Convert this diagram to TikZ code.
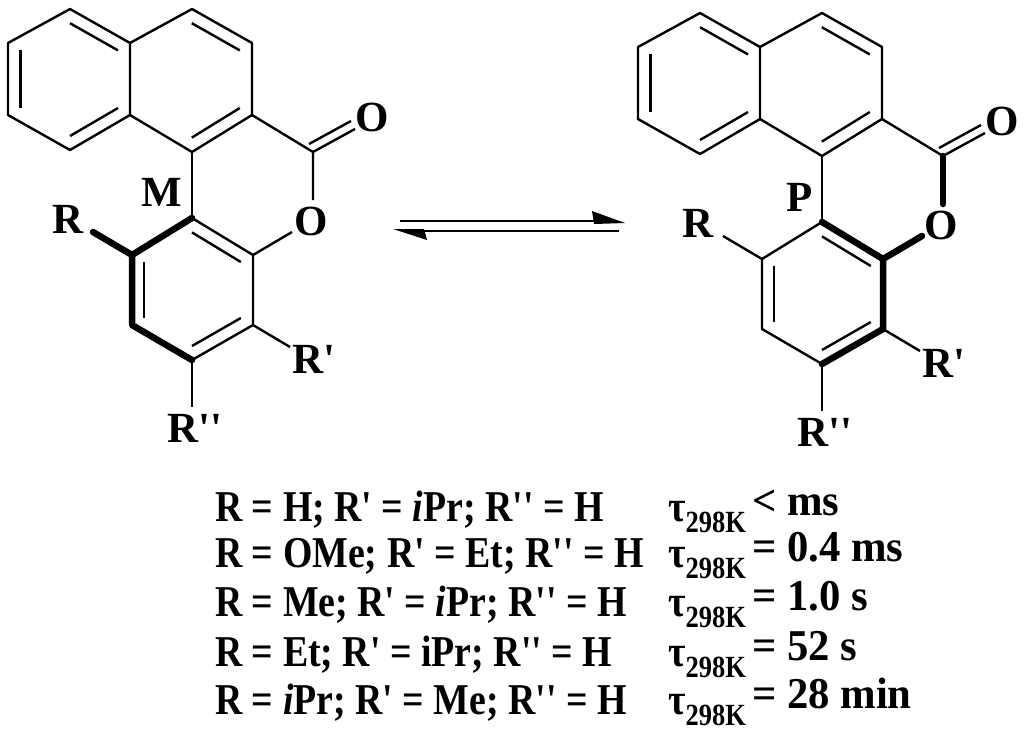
\documentclass[tikz,border=0pt]{standalone}
\usepackage{fontspec}
\setmainfont{Liberation Serif}
\usetikzlibrary{calc}
\newcommand\q{\textquotesingle}
\newcommand\tx[1]{\scalebox{0.86}[1]{\fontsize{44}{44}\selectfont\bfseries #1}}
\newcommand\tv[1]{\scalebox{0.97}[1]{\fontsize{44}{44}\selectfont\bfseries #1}}
\tikzset{
 bond/.style={line width=2.4pt},
 bold/.style={line width=6.5pt,line cap=round},
 lbl/.style={inner sep=1pt,font=\fontsize{43}{43}\selectfont\bfseries},
 row/.style={anchor=base west,inner sep=0pt},
}
\newcommand\inner[3]{\draw[bond] ($(#1)!0.2!(#3)$) -- ($(#2)!0.2!(#3)$);}
\newcommand\molecule[3]{%
 \begin{scope}[shift={#1}]
 \coordinate (#2a1) at (70,9); \coordinate (#2a2) at (130,43); \coordinate (#2a3) at (130,115);
 \coordinate (#2a4) at (70,150); \coordinate (#2a5) at (8,115); \coordinate (#2a6) at (8,43);
 \coordinate (#2ca) at (70,80);
 \coordinate (#2r1) at (192,9); \coordinate (#2r2) at (252,43); \coordinate (#2r3) at (252,115);
 \coordinate (#2r4) at (192,152); \coordinate (#2cr) at (191,80);
 \coordinate (#2b1) at (192,218); \coordinate (#2b2) at (253,255); \coordinate (#2b3) at (253,325);
 \coordinate (#2b4) at (192,360); \coordinate (#2b5) at (132,325); \coordinate (#2b6) at (132,255);
 \coordinate (#2cb) at (192,290);
 \coordinate (#2c) at (313,152); \coordinate (#2co) at (355,129); \coordinate (#2oc) at (313,200);
 \coordinate (#2ob) at (292,232);
 \coordinate (#2rr) at (93,232); \coordinate (#2rp) at (290,347); \coordinate (#2rpp) at (192,407);
 \node[lbl] (#2O1) at (372,117) {O};
 \node[lbl] (#2O2) at (311,221) {O};
 \node[lbl] (#2R) at (68,219) {R};
 \node[lbl] (#2Rp) at (314,359) {R\q};
 \node[lbl] (#2Rpp) at (195,428) {R\q\q};
 \node[lbl] (#2lab) at #3;
 \draw[bond,line join=round] (#2a1)--(#2a2)--(#2a3)--(#2a4)--(#2a5)--(#2a6)--cycle;
 \draw[bond,line join=round] (#2a2)--(#2r1)--(#2r2)--(#2r3)--(#2r4)--(#2a3);
 \inner{#2a1}{#2a2}{#2ca}\inner{#2a5}{#2a6}{#2ca}\inner{#2a3}{#2a4}{#2ca}
 \inner{#2r1}{#2r2}{#2cr}\inner{#2r3}{#2r4}{#2cr}
 \draw[bond] (#2r4)--(#2b1); \draw[bond] (#2r3)--(#2c)--(#2oc); \draw[bond] (#2ob)--(#2b2);
 \draw[bond] (#2c)--(#2co);
 \draw[bond] ($(#2c)+(-4,-8)$)--($(#2co)+(-4,-8)$);
 \draw[bond,line join=round] (#2b1)--(#2b2)--(#2b3)--(#2b4)--(#2b5)--(#2b6)--cycle;
 \inner{#2b1}{#2b2}{#2cb}\inner{#2b5}{#2b6}{#2cb}\inner{#2b3}{#2b4}{#2cb}
 \draw[bond] (#2b6)--(#2rr); \draw[bond] (#2b3)--(#2rp); \draw[bond] (#2b4)--(#2rpp);
 \end{scope}}
\begin{document}
\begin{tikzpicture}[x=1pt,y=-1pt]
\useasboundingbox (0,0) rectangle (1024,732);
\molecule{(0,0)}{L}{(162,192) {M}}
\molecule{(630,4)}{P}{(170,193) {P}}
% stereo-highlighted bonds
\draw[bold] (Lb6)--(Lrr); \draw[bold,line join=round] (Lb1)--(Lb6)--(Lb5)--(Lb4);
\draw[bold,line join=round] (Pc)--(Poc); \draw[bold] (Pob)--(Pb2);
\draw[bold,line join=round] (Pb1)--(Pb2)--(Pb3)--(Pb4);
% equilibrium arrows
\coordinate (e1) at (400,221); \coordinate (e2) at (605,221);
\coordinate (f1) at (418,231); \coordinate (f2) at (619,231);
\draw[bond] (e1)--(e2); \fill (592,211)--(625,223)--(594,224)--cycle;
\draw[bond] (f1)--(f2); \fill (393,229)--(427,240)--(424,229)--cycle;
% table
\node[row] (t1) at (215,521) {\tx{R = H; R\q{} = \textit{i}Pr; R\q\q{} = H}};
\node[row] (t2) at (215,567) {\tx{R = OMe; R\q{} = Et; R\q\q{} = H}};
\node[row] (t3) at (215,616) {\tx{R = Me; R\q{} = \textit{i}Pr; R\q\q{} = H}};
\node[row] (t4) at (215,666) {\tx{R = Et; R\q{} = iPr; R\q\q{} = H}};
\node[row] (t5) at (215,714) {\tx{R = \textit{i}Pr; R\q{} = Me; R\q\q{} = H}};
\foreach \y/\v [count=\i] in {521/{< ms},567/{= 0.4 ms},616/{= 1.0 s},666/{= 52 s},714/{= 28 min}}{
 \node[row] (tau\i) at (668,\y) {\tx{τ\textsubscript{298K}}};
 \node[row] (v\i) at (752,\y-6) {\tv{\v}};
}
\end{tikzpicture}
\end{document}
